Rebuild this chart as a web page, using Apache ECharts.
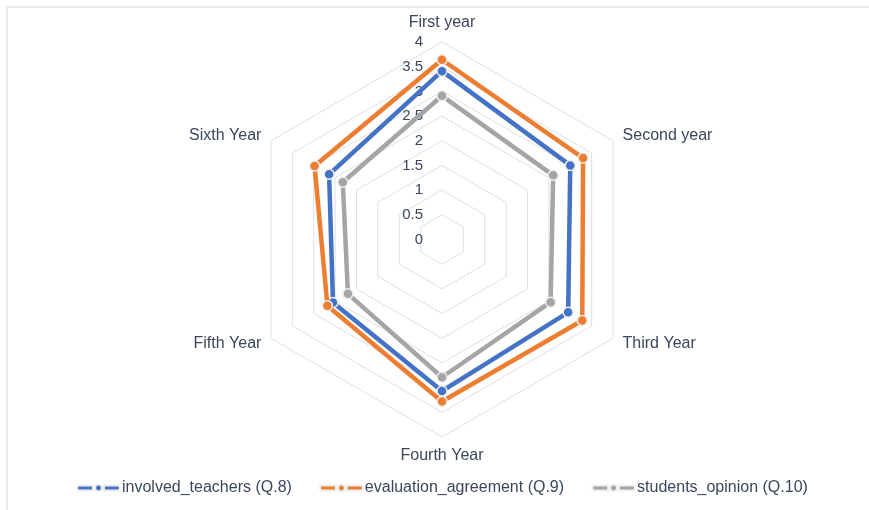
<!DOCTYPE html>
<html>
<head>
<meta charset="utf-8">
<script src="https://cdn.jsdelivr.net/npm/echarts@6/dist/echarts.min.js"></script>
<style>
  html, body { margin: 0; padding: 0; background: #fff; }
  #frame { position: absolute; left: 6px; top: 6px; width: 900px; height: 600px;
           border-left: 2px solid #e9e9ef; border-top: 2px solid #e9e9ef; }
  #chart { position: absolute; left: 0; top: 0; width: 869px; height: 510px; }
</style>
</head>
<body>
<div id="frame"></div>
<div id="chart"></div>
<script>
const categories = ['First year', 'Second year', 'Third Year', 'Fourth Year', 'Fifth Year', 'Sixth Year'];
const seriesNames = ['involved_teachers (Q.8)', 'evaluation_agreement (Q.9)', 'students_opinion (Q.10)'];
const involvedTeachers = [3.41, 3.0, 2.95, 3.07, 2.55, 2.64];
const evaluationAgreement = [3.64, 3.3, 3.28, 3.28, 2.68, 2.98];
const studentsOpinion = [2.91, 2.6, 2.54, 2.79, 2.2, 2.32];
const colors = ['#4472C4', '#ED7D31', '#A5A5A5'];
const axisMax = 4;

const textColor = '#3a475b';
const fontFamily = '"Liberation Sans", Arial, sans-serif';
const legendIcon = 'path://M2.25,1 L16,1 L16,6 L2.25,6 A2.5,2.5 0 0 1 2.25,1 Z M27,1 L40.75,1 A2.5,2.5 0 0 1 40.75,6 L27,6 Z M18,3.5 A3.5,3.5 0 1 1 25,3.5 A3.5,3.5 0 1 1 18,3.5 Z';

const values = [involvedTeachers, evaluationAgreement, studentsOpinion];

// ECharts lays indicators counter-clockwise; reorder so categories run clockwise from the top
const order = [0].concat(categories.map(function (c, i) { return i; }).slice(1).reverse());

const chart = echarts.init(document.getElementById('chart'), null, { renderer: 'canvas' });
chart.setOption({
  animation: false,
  color: colors,
  textStyle: { fontFamily: fontFamily },
  legend: {
    top: 475,
    left: 71,
    itemWidth: 43,
    itemHeight: 7,
    itemGap: 27,
    icon: legendIcon,
    textStyle: { color: textColor, fontSize: 16, fontFamily: fontFamily, padding: [0, 0, 0, -3] },
    data: seriesNames
  },
  radar: {
    center: [442, 239.5],
    radius: 197.5,
    shape: 'polygon',
    startAngle: 90,
    splitNumber: 8,
    nameGap: 11,
    axisName: { color: textColor, fontSize: 16, fontFamily: fontFamily },
    axisLine: { show: false },
    axisTick: { show: false },
    splitArea: { show: false },
    splitLine: { lineStyle: { color: '#dedfe5', width: 1 } },
    axisLabel: { show: true, color: textColor, fontSize: 15, fontFamily: fontFamily, margin: 19,
                 formatter: function (v) { return String(v); } },
    indicator: order.map(function (k, i) {
      const ind = { name: categories[k], min: 0, max: axisMax };
      if (i > 0) ind.axisLabel = { show: false };
      return ind;
    })
  },
  series: seriesNames.map(function (n, i) {
    return {
      type: 'radar',
      name: n,
      symbol: 'circle',
      symbolSize: 10,
      lineStyle: { width: 4.5, color: colors[i] },
      itemStyle: { color: colors[i], borderColor: '#eeeeee', borderWidth: 1.5 },
      z: 2 + i,
      data: [{ name: n, value: order.map(function (k) { return values[i][k]; }) }]
    };
  })
});
</script>
</body>
</html>
